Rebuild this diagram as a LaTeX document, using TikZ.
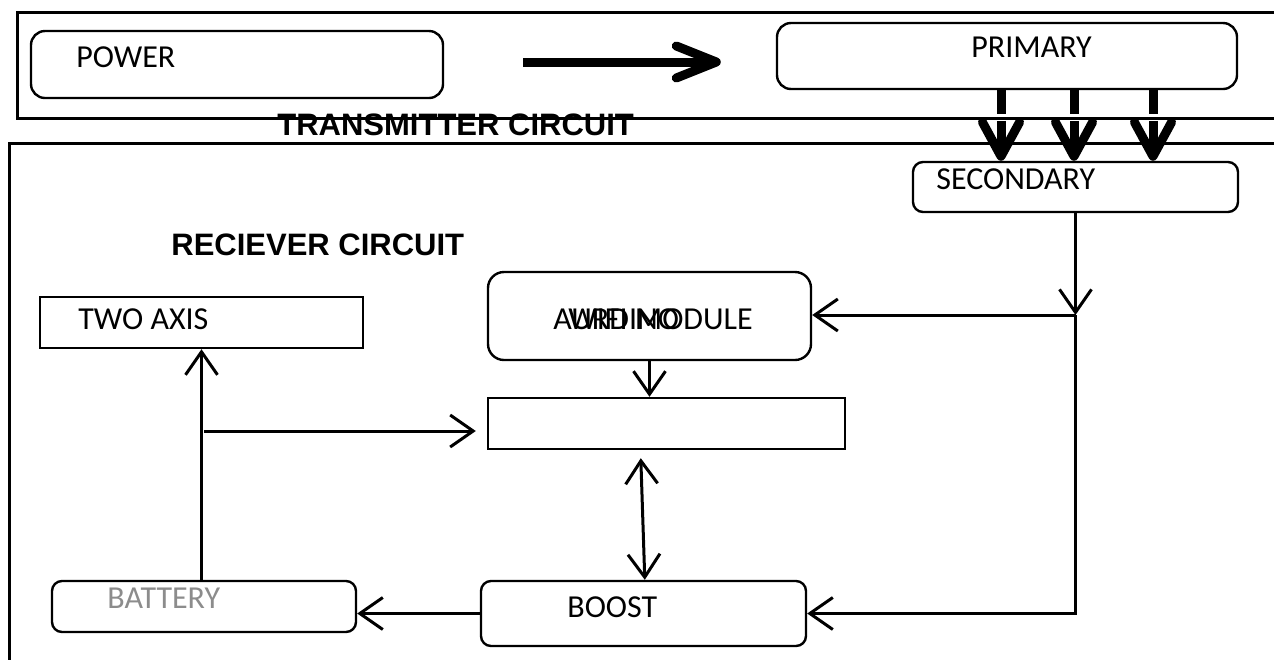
\documentclass[tikz,border=0pt]{standalone}
\usepackage{fontspec}
\usepackage{tikz}
\usetikzlibrary{arrows.meta,calc}
\newfontfamily\lblfont{Carlito}
\newfontfamily\headfont{Liberation Sans}
\tikzset{
  % boxes
  blk/.style={draw,line width=1.2pt,inner sep=0pt},
  rblk/.style={blk,rounded corners=6pt},
  frame/.style={line width=1.5pt},
  % texts
  lbl/.style={font=\lblfont\fontsize{16}{19}\selectfont,inner sep=0pt,anchor=base west},
  head/.style={font=\headfont\bfseries\fontsize{15.5}{18}\selectfont,inner sep=0pt,anchor=base west},
  % connectors
  wire/.style={line width=1.5pt,-{Straight Barb[length=11.5pt,width=16pt]}},
  biwire/.style={line width=1.5pt,{Straight Barb[length=11.5pt,width=16pt]}-{Straight Barb[length=11.5pt,width=16pt]}},
  bigarrow/.style={line width=4.5pt,-{Straight Barb[length=20pt,width=16pt,round]}},
  fatline/.style={line width=4.5pt},
  fatarrow/.style={line width=4.5pt,-{Straight Barb[length=17pt,width=18.5pt,round]}},
}
\begin{document}
\begin{tikzpicture}[x=0.5pt,y=-0.5pt]
\useasboundingbox (0,0) rectangle (1274,660);

%% frames (open on the right)
\draw[frame] (1274,12) -- (17,12) -- (17,118) -- (1274,118);
\draw[frame] (1274,143) -- (9,143) -- (9,660);

%% transmitter
\node[rblk,minimum width=206pt,minimum height=33.5pt,rounded corners=7pt] (power) at (237,64.5) {};
\node[rblk,minimum width=230pt,minimum height=33pt,rounded corners=7pt] (primary) at (1007,56) {};
\node[lbl] (powertxt) at (76,67) {POWER};
\node[lbl] (primarytxt) at (971,57) {PRIMARY};
\node[head] (txtitle) at (277,135) {TRANSMITTER CIRCUIT};

%% receiver
\node[rblk,minimum width=162.5pt,minimum height=25pt,rounded corners=5pt] (secondary) at (1075.5,187) {};
\node[blk,minimum width=161.5pt,minimum height=25.5pt] (twoaxis) at (201.5,322.5) {};
\node[rblk,minimum width=161.5pt,minimum height=44pt,rounded corners=8pt] (wifi) at (649.5,316) {};
\node[blk,minimum width=178.5pt,minimum height=25.5pt] (blank) at (666.5,423.5) {};
\node[rblk,minimum width=162.5pt,minimum height=32.5pt,rounded corners=5pt] (boost) at (643.5,613.5) {};
\node[rblk,minimum width=152pt,minimum height=25.5pt,rounded corners=5pt] (battery) at (204,606.5) {};

\node[lbl] (secondarytxt) at (936,189) {SECONDARY};
\node[head] (rxtitle) at (171,255) {RECIEVER CIRCUIT};
\node[lbl] (twoaxistxt) at (78,329) {TWO AXIS};
\node[lbl] (wifitxt) at (568,329) {WIFI MODULE};
\node[lbl] (aurdinotxt) at (553,329) {AURDINO};
\node[lbl,text=black!45] (batterytxt) at (107,608) {BATTERY};
\node[lbl] (boosttxt) at (567,617) {BOOST};

%% power -> primary
\draw[bigarrow,shorten <=39.5pt,shorten >=27.5pt] ([yshift=1.25pt]power.east) -- ([yshift=1.25pt]power.east -| primary.west);

%% primary -> secondary (coupling)
\foreach \x in {1001,1074,1153}{
  \coordinate (c\x) at (\x,0);
  \draw[fatline] (primary.south -| c\x) -- ++(0,24);
  \draw[fatarrow] (secondary.north -| c\x) ++(0,-40) -- (secondary.north -| c\x);
}

%% secondary feeds wifi and boost
\coordinate (jn) at (1075,315);
\draw[wire] (secondary.south) -- (secondary.south |- jn);
\draw[wire] (secondary.south |- jn) -- (jn -| wifi.east);
\draw[wire] (secondary.south |- jn) |- (boost.east);

%% inner links
\draw[wire] (wifi.south) -- (wifi.south |- blank.north);
\draw[biwire] ($(blank.south west)+(154,8)$) -- ($(boost.north west)+(165,0)$);
\draw[wire] (boost.west) -- (boost.west -| battery.east);
\draw[wire] (battery.north -| twoaxis.south) -- (twoaxis.south);
\coordinate (br) at (204,431);
\draw[wire,shorten >=5.5pt] (br) -- (br -| blank.west);
\end{tikzpicture}
\end{document}
